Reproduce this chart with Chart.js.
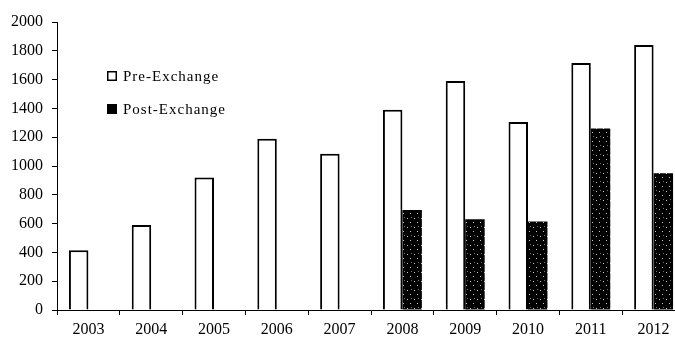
<!DOCTYPE html>
<html>
<head>
<meta charset="utf-8">
<script src="https://cdn.jsdelivr.net/npm/chart.js@4/dist/chart.umd.min.js"></script>
<style>
  html, body { margin: 0; padding: 0; background: #fff; overflow: hidden; }
  #wrap { width: 675px; height: 344px; overflow: hidden; }
  canvas { display: block; }
</style>
</head>
<body>
<div id="wrap"><canvas id="c" width="685" height="344"></canvas></div>
<script>
// Yearly counts before and after the exchange
const categories = ['2003', '2004', '2005', '2006', '2007', '2008', '2009', '2010', '2011', '2012'];
const preExchange = [415, 590, 920, 1190, 1085, 1390, 1590, 1305, 1715, 1840];
const postExchange = [null, null, null, null, null, 695, 630, 615, 1260, 950];
const yMin = 0;
const yMax = 2000;
const yStep = 200;

const serif = "'Liberation Serif', 'Times New Roman', serif";

// Black fill speckled with small white dots
function speckle() {
  const p = document.createElement('canvas');
  p.width = 7; p.height = 9;
  const g = p.getContext('2d');
  g.fillStyle = '#000';
  g.fillRect(0, 0, 7, 9);
  g.fillStyle = 'rgba(255,255,255,0.8)';
  g.fillRect(1, 2, 1, 1);
  g.fillRect(4, 6, 1, 1);
  g.fillStyle = 'rgba(255,255,255,0.45)';
  g.fillRect(5, 1, 1, 1);
  return document.getElementById('c').getContext('2d').createPattern(p, 'repeat');
}
const postFill = speckle();

// Legend drawn inside the plot area, stacked vertically
const insetLegend = {
  id: 'insetLegend',
  afterDatasetsDraw(chart) {
    const ctx = chart.ctx;
    const x = chart.chartArea.left + 50;
    const rows = [chart.chartArea.top + 54, chart.chartArea.top + 87];
    ctx.save();
    ctx.font = '15px ' + serif;
    ctx.letterSpacing = '1px';
    ctx.textBaseline = 'middle';
    chart.data.datasets.forEach((ds, i) => {
      const y = rows[i];
      if (i === 0) {
        ctx.fillStyle = '#fff';
        ctx.fillRect(x, y - 5, 10, 10);
        ctx.strokeStyle = '#000';
        ctx.lineWidth = 1.5;
        ctx.strokeRect(x + 0.75, y - 4.25, 8.5, 8.5);
      } else {
        ctx.fillStyle = '#000';
        ctx.fillRect(x, y - 5, 10, 10);
      }
      ctx.fillStyle = '#000';
      ctx.fillText(ds.label, x + 16, y + 1);
    });
    ctx.restore();
  }
};

new Chart(document.getElementById('c'), {
  type: 'bar',
  data: {
    labels: categories,
    datasets: [
      {
        label: 'Pre-Exchange',
        data: preExchange,
        backgroundColor: '#fff',
        borderColor: '#000',
        borderWidth: 2,
        borderSkipped: 'start'
      },
      {
        label: 'Post-Exchange',
        data: postExchange,
        backgroundColor: postFill,
        borderWidth: 0
      }
    ]
  },
  options: {
    responsive: false,
    animation: false,
    devicePixelRatio: 1,
    categoryPercentage: 0.62,
    barPercentage: 1,
    layout: { padding: { top: 22, right: 0, left: 0, bottom: 0 } },
    plugins: {
      legend: { display: false },
      tooltip: { enabled: false }
    },
    scales: {
      x: {
        grid: { drawOnChartArea: false, tickLength: 5, color: '#000', offset: true },
        border: { color: '#000', width: 1 },
        ticks: { color: '#000', font: { family: serif, size: 16 }, padding: 5 },
        afterFit(s) { s.height = 34; }
      },
      y: {
        min: yMin,
        max: yMax,
        ticks: {
          stepSize: yStep,
          color: '#000',
          font: { family: serif, size: 16 },
          padding: 9,
          callback: (v) => String(v)
        },
        grid: { drawOnChartArea: false, tickLength: 5, color: '#000' },
        border: { color: '#000', width: 1 },
        afterFit(s) { s.width = 57; }
      }
    }
  },
  plugins: [insetLegend]
});
</script>
</body>
</html>
